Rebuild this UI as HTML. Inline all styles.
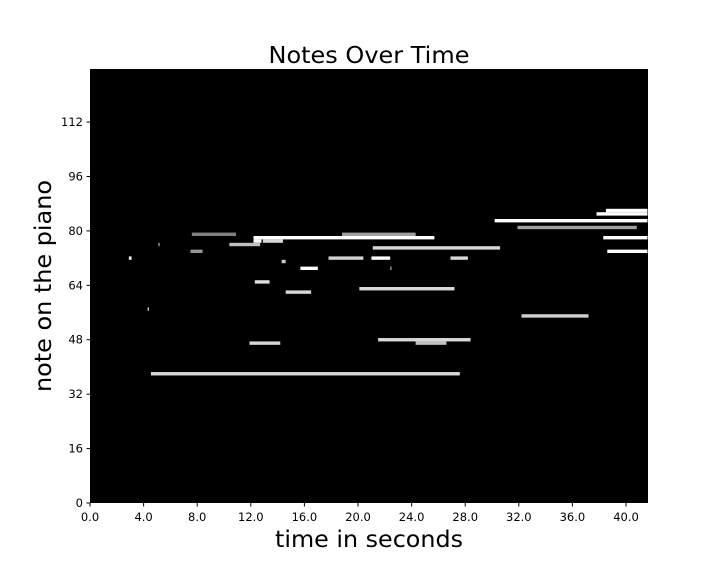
<!DOCTYPE html>
<html><head><meta charset="utf-8"><style>
body{margin:0;background:#fff;}
svg text{font-family:"DejaVu Sans","Liberation Sans",sans-serif;fill:#000;}
</style></head><body>
<svg id="chart" width="720" height="576" xmlns="http://www.w3.org/2000/svg">
<text x="369" y="63" font-size="23" text-anchor="middle" textLength="201" lengthAdjust="spacingAndGlyphs">Notes Over Time</text>
<rect x="90" y="69" width="558" height="434" fill="#000"/>
<g id="notes"></g>
<g id="xticks"></g>
<g id="yticks"></g>
<text x="369" y="547" font-size="23" text-anchor="middle" textLength="188" lengthAdjust="spacingAndGlyphs">time in seconds</text>
<text transform="translate(51,286) rotate(-90)" font-size="23" text-anchor="middle" textLength="212" lengthAdjust="spacingAndGlyphs">note on the piano</text>
</svg>
<script>
const starts = [7.6,18.8,12.2,12.2,12.9,5.1,10.4,7.5,2.9,14.3,15.7,17.8,21.0,26.9,22.4,12.3,14.6,20.1,4.3,11.9,4.55,21.5,24.3,21.1,32.2,37.8,38.5,30.2,31.9,38.3,38.6];
const ends   = [10.9,24.3,25.7,12.8,14.4,5.2,12.7,8.4,3.1,14.6,17.0,20.4,22.4,28.2,22.5,13.4,16.5,27.2,4.4,14.2,27.6,28.4,26.6,30.6,37.2,41.6,41.6,41.6,40.8,41.6,41.6];
const pitches= [79,79,78,77,77,76,76,74,72,71,69,72,72,72,69,65,62,63,57,47,38,48,47,75,55,85,86,83,81,78,74];
const shades = [128,160,255,255,216,160,192,150,240,204,255,208,255,216,160,224,216,216,208,216,216,216,192,216,208,255,255,255,160,255,255];
const xTicks = [0,4,8,12,16,20,24,28,32,36,40];
const yTicks = [0,16,32,48,64,80,96,112];
const X0=90, X1=648, Y0=503, Y1=69, TMAX=41.64, PMAX=127.6;
const xs = t => X0 + t*(X1-X0)/TMAX;
const ys = p => Y0 - p*(Y0-Y1)/PMAX;
const NS="http://www.w3.org/2000/svg";
const g=document.getElementById('notes');
for(let i=0;i<starts.length;i++){
  const r=document.createElementNS(NS,'rect');
  
  
  r.setAttribute('x',xs(starts[i]));
  r.setAttribute('width',Math.max(1,xs(ends[i])-xs(starts[i])));
  r.setAttribute('y',ys(pitches[i]+0.5));
  r.setAttribute('height',ys(pitches[i]-0.5)-ys(pitches[i]+0.5));
  const c=shades[i];
  r.setAttribute('fill','rgb('+c+','+c+','+c+')');
  g.appendChild(r);
}
const gx=document.getElementById('xticks');
xTicks.forEach(t=>{
  const l=document.createElementNS(NS,'line');
  
  
  l.setAttribute('x1',xs(t));l.setAttribute('x2',xs(t));l.setAttribute('y1',503);l.setAttribute('y2',506.5);l.setAttribute('stroke','#000');
  gx.appendChild(l);
  const tx=document.createElementNS(NS,'text');
  
  
  tx.setAttribute('x',xs(t));tx.setAttribute('y',521);tx.setAttribute('font-size','11.5');tx.setAttribute('text-anchor','middle');
  tx.textContent=t.toFixed(1);
  gx.appendChild(tx);
});
const gy=document.getElementById('yticks');
yTicks.forEach(p=>{
  const l=document.createElementNS(NS,'line');
  
  
  l.setAttribute('x1',86.5);l.setAttribute('x2',90);l.setAttribute('y1',ys(p));l.setAttribute('y2',ys(p));l.setAttribute('stroke','#000');
  gy.appendChild(l);
  const tx=document.createElementNS(NS,'text');
  
  
  tx.setAttribute('x',83);tx.setAttribute('y',ys(p)+4);tx.setAttribute('font-size','11.5');tx.setAttribute('text-anchor','end');
  tx.textContent=p;
  gy.appendChild(tx);
});
</script>
</body></html>
